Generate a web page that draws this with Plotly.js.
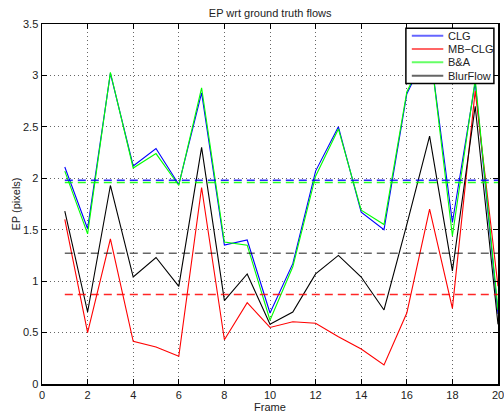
<!DOCTYPE html>
<html>
<head>
<meta charset="utf-8">
<script src="https://cdn.plot.ly/plotly-3.0.1.min.js"></script>
<style>
  html, body { margin: 0; padding: 0; background: #fff; }
  #chart { width: 504px; height: 414px; }
</style>
</head>
<body>
<div id="chart"></div>
<script>
// ---- data ----
const frames = [1,2,3,4,5,6,7,8,9,10,11,12,13,14,15,16,17,18,19,20];
const seriesNames = ["CLG", "MB\u2212CLG", "B&A", "BlurFlow"];
const clg      = [2.11,1.51,3.02,2.12,2.29,1.94,2.83,1.35,1.40,0.69,1.17,2.07,2.50,1.67,1.50,2.82,3.28,1.57,2.93,0.68];
const mbclg    = [1.60,0.50,1.41,0.415,0.36,0.27,1.91,0.43,0.79,0.55,0.605,0.59,0.46,0.34,0.185,0.69,1.70,0.735,2.85,0.95];
const ba       = [2.07,1.46,3.03,2.10,2.24,1.93,2.88,1.38,1.35,0.62,1.14,2.02,2.48,1.69,1.55,2.84,3.30,1.44,2.96,0.72];
const blurflow = [1.68,0.70,1.93,1.04,1.23,0.95,2.30,0.81,1.07,0.58,0.70,1.07,1.25,1.04,0.72,1.55,2.41,1.10,2.70,0.58];
const meanValues = [1.98, 0.87, 1.96, 1.27];   // dashed mean lines: CLG, MB-CLG, B&A, BlurFlow
const meanSpan = [1, 20];
const xTicks = [0,2,4,6,8,10,12,14,16,18,20];
const yTicks = [0,0.5,1,1.5,2,2.5,3,3.5];

// ---- styles ----
const colors = ["#0000ff", "#ff0000", "#00ff00", "#000000"];
const values = [clg, mbclg, ba, blurflow];

const traces = [];
values.forEach((v, i) => {
  traces.push({
    x: frames, y: v, type: "scatter", mode: "lines",
    name: seriesNames[i], showlegend: false,
    line: {color: colors[i], width: 1.1},
    hoverinfo: "skip"
  });
});
meanValues.forEach((m, i) => {
  traces.push({
    x: meanSpan, y: [m, m], type: "scatter", mode: "lines",
    showlegend: false,
    line: {color: colors[i], width: 1.5, dash: "8px,5px"},
    opacity: i === 3 ? 0.6 : 0.85,
    hoverinfo: "skip"
  });
});

const fontFamily = "Liberation Sans, Arial, sans-serif";
const font = {family: fontFamily, size: 11, color: "#222"};

// ---- legend box (paper coordinates) ----
const legBox = {x0: 0.798, x1: 0.991, y0: 0.835, y1: 0.988};
const legRow0 = 0.9675, legStep = 0.037;
const legLineX = [0.811, 0.880], legTextX = 0.886;
const shapes = [{
  type: "rect", xref: "paper", yref: "paper",
  x0: legBox.x0, x1: legBox.x1, y0: legBox.y0, y1: legBox.y1,
  fillcolor: "#fff", line: {color: "#000", width: 1.5}, layer: "above"
}];
const annotations = [];
seriesNames.forEach((name, i) => {
  const yy = legRow0 - i * legStep;
  shapes.push({
    type: "line", xref: "paper", yref: "paper",
    x0: legLineX[0], x1: legLineX[1], y0: yy, y1: yy,
    line: {color: colors[i], width: 2}, opacity: 0.6, layer: "above"
  });
  annotations.push({
    xref: "paper", yref: "paper", x: legTextX, y: yy,
    xanchor: "left", yanchor: "middle", showarrow: false,
    text: name, font: {family: fontFamily, size: 11, color: "#222"}
  });
});

const axisCommon = {
  showline: true, linecolor: "#000", linewidth: 1.5, mirror: "ticks",
  ticks: "inside", ticklen: 5, tickwidth: 1, tickcolor: "#000",
  showgrid: true, gridcolor: "#666", gridwidth: 1, griddash: "1px,3px",
  zeroline: false, tickfont: font, ticklabeloverflow: "allow"
};

const layout = {
  width: 504, height: 414,
  margin: {l: 42, r: 6, t: 24, b: 30},
  paper_bgcolor: "#fff", plot_bgcolor: "#fff",
  font: font,
  showlegend: false,
  title: {text: "EP wrt ground truth flows", font: font, x: 0.536, xref: "container", xanchor: "center", y: 0.968, yref: "container", yanchor: "middle"},
  xaxis: Object.assign({}, axisCommon, {
    range: [0, 20], tickvals: xTicks, ticktext: xTicks.map(String),
    title: {text: "Frame", font: font, standoff: 0}
  }),
  yaxis: Object.assign({}, axisCommon, {
    range: [0, 3.5], tickvals: yTicks, ticktext: yTicks.map(String),
    title: {text: "EP (pixels)", font: font, standoff: 0}
  }),
  shapes: shapes,
  annotations: annotations
};

Plotly.newPlot("chart", traces, layout, {staticPlot: true, displayModeBar: false});
</script>
</body>
</html>
